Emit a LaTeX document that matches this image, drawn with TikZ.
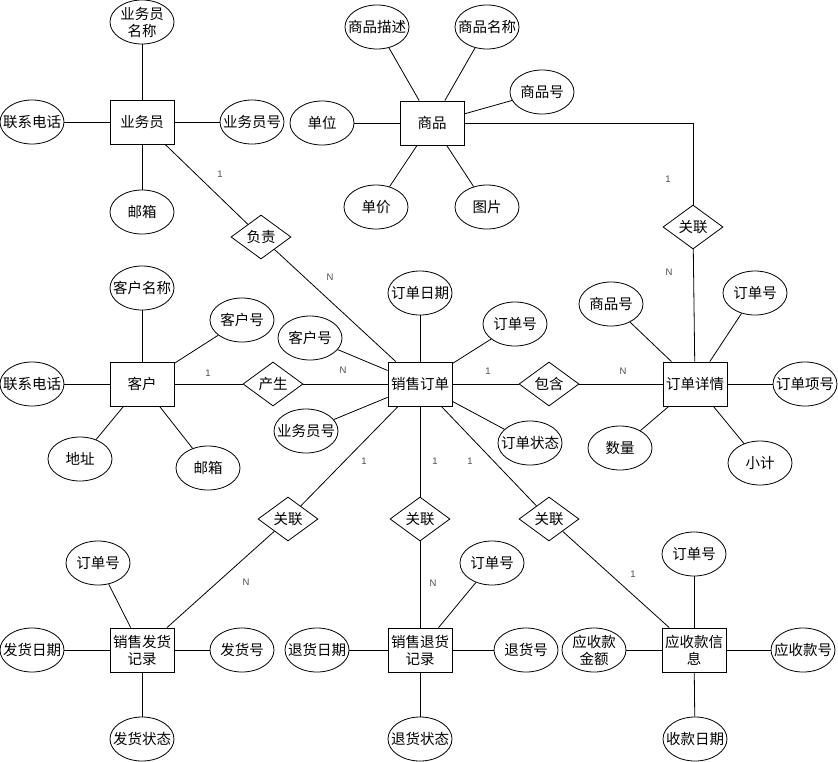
\documentclass[tikz,border=0pt]{standalone}
\usepackage{fontspec}
\setmainfont{Noto Sans CJK SC}
\newfontfamily\lblfont{Liberation Sans}
\usetikzlibrary{shapes.geometric}
\begin{document}
\begin{tikzpicture}[x=1pt,y=-1pt,line width=0.8pt,
  every node/.style={font=\fontsize{14.5}{17}\selectfont},
  ent/.style={draw,rectangle,minimum width=64pt,minimum height=44pt,inner sep=1pt,align=center},
  attr/.style={draw,ellipse,minimum width=64pt,minimum height=44pt,inner xsep=-8pt,inner ysep=-3pt,align=center},
  rel/.style={draw,diamond,aspect=1.36,minimum width=60pt,minimum height=44pt,inner sep=0pt},
  card/.style={font=\lblfont\fontsize{9.5}{11}\selectfont,text=black!70}]
\useasboundingbox (0,0) rectangle (838,761);
% salesman
\node[ent] (yw) at (142,122) {业务员};
\node[attr] (yw1) at (142,22) {业务员\\名称};
\node[attr] (yw2) at (32,122) {联系电话};
\node[attr] (yw3) at (252,122) {业务员号};
\node[attr] (yw4) at (142,212) {邮箱};
\node[rel] (fz) at (261,237) {负责};
% goods
\node[ent] (sp) at (432,123) {商品};
\node[attr] (sp1) at (377,27) {商品描述};
\node[attr] (sp2) at (487,27) {商品名称};
\node[attr] (sp3) at (542,92) {商品号};
\node[attr] (sp4) at (322,123) {单位};
\node[attr] (sp5) at (376,207) {单价};
\node[attr] (sp6) at (487,207) {图片};
\node[rel] (gl1) at (693,227) {关联};
% customer
\node[ent] (kh) at (142,384) {客户};
\node[attr] (kh1) at (142,288) {客户名称};
\node[attr] (kh2) at (242,320) {客户号};
\node[attr] (kh3) at (32,384) {联系电话};
\node[attr] (kh4) at (80,459) {地址};
\node[attr] (kh5) at (208,468) {邮箱};
\node[rel] (cs) at (273,384) {产生};
% order
\node[ent] (dd) at (420,384) {销售订单};
\node[attr] (dd1) at (420,293) {订单日期};
\node[attr] (dd2) at (515,324) {订单号};
\node[attr] (dd3) at (310,338) {客户号};
\node[attr] (dd4) at (306,431) {业务员号};
\node[attr] (dd5) at (530,443) {订单状态};
\node[rel] (bh) at (549,384) {包含};
% order detail
\node[ent] (xq) at (695,384) {订单详情};
\node[attr] (xq1) at (611,304) {商品号};
\node[attr] (xq2) at (755,293) {订单号};
\node[attr] (xq3) at (805,384) {订单项号};
\node[attr] (xq4) at (620,448) {数量};
\node[attr] (xq5) at (760,463) {小计};
% relations below
\node[rel] (gl2) at (288,519) {关联};
\node[rel] (gl3) at (420,519) {关联};
\node[rel] (gl4) at (549,519) {关联};
% delivery
\node[ent] (fh) at (142,650) {销售发货\\记录};
\node[attr] (fh1) at (98,563) {订单号};
\node[attr] (fh2) at (32,650) {发货日期};
\node[attr] (fh3) at (242,650) {发货号};
\node[attr] (fh4) at (142,739) {发货状态};
% return
\node[ent] (th) at (420,650) {销售退货\\记录};
\node[attr] (th1) at (492,563) {订单号};
\node[attr] (th2) at (317,650) {退货日期};
\node[attr] (th3) at (526,650) {退货号};
\node[attr] (th4) at (420,739) {退货状态};
% receivable
\node[ent] (ys) at (694,650) {应收款信\\息};
\node[attr] (ys1) at (694,554) {订单号};
\node[attr] (ys2) at (594,650) {应收款\\金额};
\node[attr] (ys3) at (803,650) {应收款号};
\node[attr] (ys4) at (695,739) {收款日期};
% attribute lines
\foreach \e/\a in {yw/yw1,yw/yw2,yw/yw3,yw/yw4,
  sp/sp1,sp/sp2,sp/sp3,sp/sp4,sp/sp5,sp/sp6,
  kh/kh1,kh/kh2,kh/kh3,kh/kh4,kh/kh5,
  dd/dd1,dd/dd2,dd/dd3,dd/dd4,dd/dd5,
  xq/xq1,xq/xq2,xq/xq3,xq/xq4,xq/xq5,
  fh/fh1,fh/fh2,fh/fh3,fh/fh4,
  th/th1,th/th2,th/th3,th/th4,
  ys/ys1,ys/ys2,ys/ys3,ys/ys4}
  \draw (\e) -- (\a);
% relationship lines
\draw (yw) -- (fz) -- (dd);
\draw (sp) -| (gl1);
\draw (gl1) -- (xq);
\draw (kh) -- (cs) -- (dd);
\draw (dd) -- (bh) -- (xq);
\draw (dd) -- (gl2) -- (fh);
\draw (dd) -- (gl3) -- (th);
\draw (dd) -- (gl4) -- (ys);
% cardinalities
\node[card] (c1) at (220,174) {1};
\node[card] (c2) at (330,277) {N};
\node[card] (c3) at (668,179) {1};
\node[card] (c4) at (669,272) {N};
\node[card] (c5) at (208,373) {1};
\node[card] (c6) at (343,370) {N};
\node[card] (c7) at (488,371) {1};
\node[card] (c8) at (623,371) {N};
\node[card] (c9) at (364,461) {1};
\node[card] (c10) at (435,461) {1};
\node[card] (c11) at (470,461) {1};
\node[card] (c12) at (246,582) {N};
\node[card] (c13) at (433,583) {N};
\node[card] (c14) at (633,574) {1};
\end{tikzpicture}
\end{document}
